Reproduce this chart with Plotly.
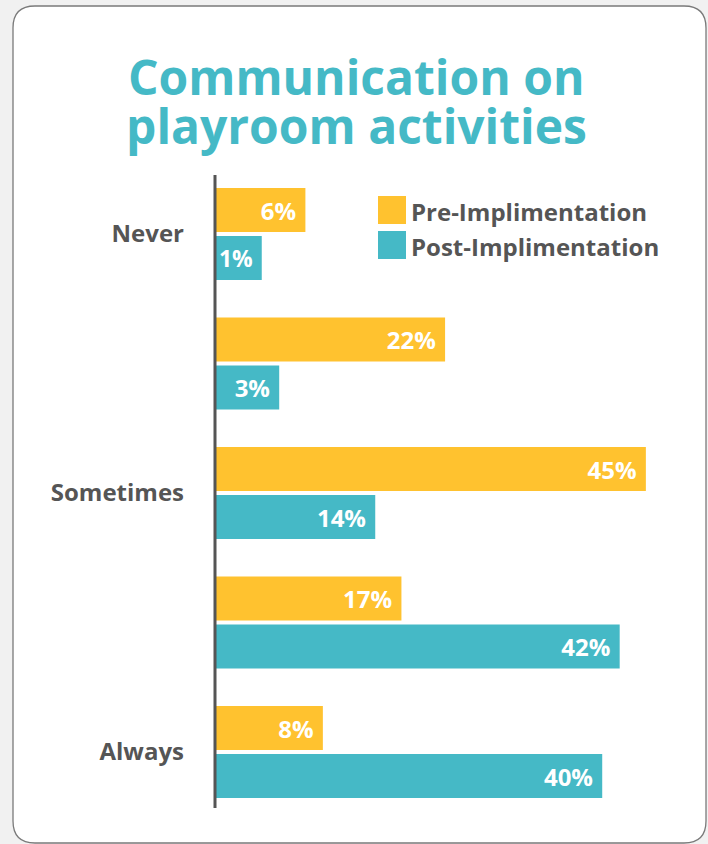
import plotly.graph_objects as go

# ---- data ----
categories = ["Never", "Rarely", "Sometimes", "Often", "Always"]
tick_labels = ["Never", "", "Sometimes", "", "Always"]
series_names = ["Pre-Implimentation", "Post-Implimentation"]
pre_values = [6, 22, 45, 17, 8]
post_values = [1, 3, 14, 42, 40]
title_lines = ["Communication on", "playroom activities"]

# ---- styles ----
PRE_COLOR = "#FFC22F"
POST_COLOR = "#45B9C6"
TITLE_COLOR = "#45B9C6"
TEXT_COLOR = "#555555"
FONT = "Open Sans"
W, H = 708, 844
OFFSET = 4.24  # visual stub so that small bars hold their labels


def px_x(p):
    return p / W


def px_y(p):
    return 1 - p / H


fig = go.Figure()
for name, vals, col in [(series_names[0], pre_values, PRE_COLOR),
                        (series_names[1], post_values, POST_COLOR)]:
    fig.add_trace(go.Bar(
        name=name,
        y=categories,
        x=[v + OFFSET for v in vals],
        base=[-OFFSET] * len(vals),
        orientation="h",
        marker=dict(color=col, line=dict(width=0)),
        text=[f"{v}%" for v in vals],
        texttemplate="%{text}\u00a0",
        textposition="inside",
        insidetextanchor="end",
        textangle=0,
        insidetextfont=dict(family=FONT, size=24, color="white", weight="bold"),
        hovertemplate="%{y}: %{text}<extra>" + name + "</extra>",
        showlegend=False,
    ))

# card background
x0, x1, y0, y1, r = 13, 706, 6, 843, 22
path = (
    f"M {px_x(x0 + r)} {px_y(y0)} L {px_x(x1 - r)} {px_y(y0)} "
    f"Q {px_x(x1)} {px_y(y0)} {px_x(x1)} {px_y(y0 + r)} "
    f"L {px_x(x1)} {px_y(y1 - r)} "
    f"Q {px_x(x1)} {px_y(y1)} {px_x(x1 - r)} {px_y(y1)} "
    f"L {px_x(x0 + r)} {px_y(y1)} "
    f"Q {px_x(x0)} {px_y(y1)} {px_x(x0)} {px_y(y1 - r)} "
    f"L {px_x(x0)} {px_y(y0 + r)} "
    f"Q {px_x(x0)} {px_y(y0)} {px_x(x0 + r)} {px_y(y0)} Z"
)
shapes = [dict(type="path", path=path, xref="paper", yref="paper",
               fillcolor="white", line=dict(color="#7a7a7a", width=1.3),
               layer="below")]

# vertical axis line
shapes.append(dict(type="line", xref="paper", yref="paper",
                   x0=px_x(215), x1=px_x(215), y0=px_y(175), y1=px_y(808),
                   line=dict(color=TEXT_COLOR, width=3), layer="above"))

# custom legend
annotations = []
for i, (name, col) in enumerate([(series_names[0], PRE_COLOR), (series_names[1], POST_COLOR)]):
    top = 196 + i * 35
    shapes.append(dict(type="rect", xref="paper", yref="paper",
                       x0=px_x(378), x1=px_x(406), y0=px_y(top), y1=px_y(top + 28),
                       fillcolor=col, line=dict(width=0)))
    annotations.append(dict(text=name, xref="paper", yref="paper",
                            x=px_x(409), y=px_y(top + 15), xanchor="left", yanchor="middle",
                            showarrow=False,
                            font=dict(family=FONT, size=24, color=TEXT_COLOR, weight="bold")))

# title
for i, line in enumerate(title_lines):
    annotations.append(dict(text=line, xref="paper", yref="paper",
                            x=px_x(356), y=px_y(77 + i * 49), xanchor="center", yanchor="middle",
                            showarrow=False,
                            font=dict(family=FONT, size=48, color=TITLE_COLOR, weight="bold")))

fig.update_layout(
    width=W, height=H,
    margin=dict(l=0, r=0, t=0, b=0),
    paper_bgcolor="#f1f1f1",
    plot_bgcolor="rgba(0,0,0,0)",
    barmode="group",
    bargap=0.2587,
    bargroupgap=0.0833,
    shapes=shapes,
    annotations=annotations,
    font=dict(family=FONT),
    xaxis=dict(domain=[px_x(216), px_x(700)], range=[-OFFSET, -OFFSET + 484 / 8.73],
               visible=False, showgrid=False, zeroline=False, fixedrange=True),
    yaxis=dict(domain=[px_y(816.75), px_y(169.25)], autorange="reversed",
               tickmode="array", tickvals=categories, ticktext=tick_labels,
               showline=False, ticks="", showgrid=False, zeroline=False,
               ticklabelstandoff=31,
               tickfont=dict(family=FONT, size=24, color=TEXT_COLOR, weight="bold"),
               fixedrange=True),
)

fig.write_html("out.html")
